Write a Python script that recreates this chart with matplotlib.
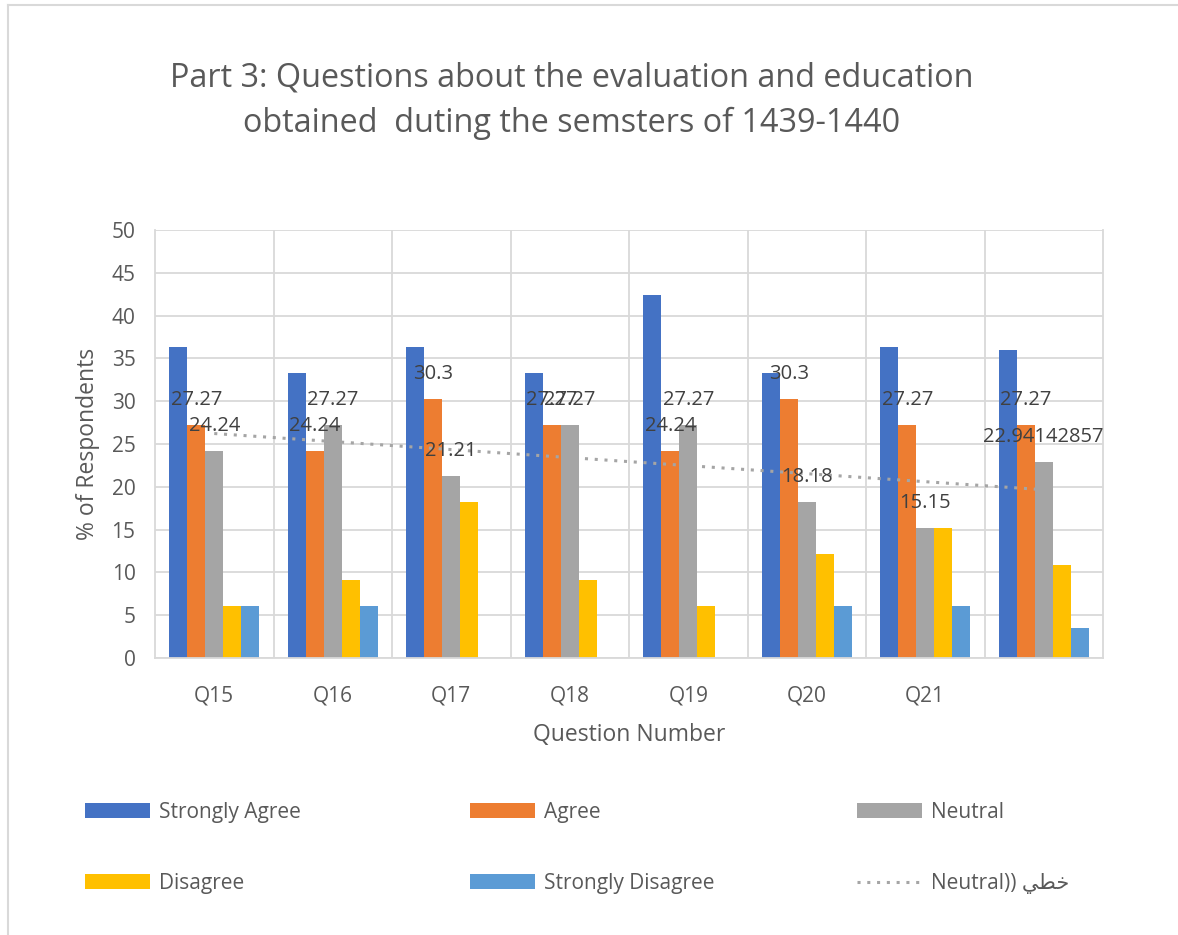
import numpy as np
import matplotlib
matplotlib.use("Agg")
import matplotlib.pyplot as plt
from matplotlib.lines import Line2D

plt.rcParams['font.family'] = ['Open Sans', 'DejaVu Sans']

# data
questions = ["Q15", "Q16", "Q17", "Q18", "Q19", "Q20", "Q21", ""]
series_names = ["Strongly Agree", "Agree", "Neutral", "Disagree", "Strongly Disagree"]
strongly_agree = [36.36, 33.33, 36.36, 33.33, 42.42, 33.33, 36.36, 35.93]
agree = [27.27, 24.24, 30.3, 27.27, 24.24, 30.3, 27.27, 27.27]
neutral = [24.24, 27.27, 21.21, 27.27, 27.27, 18.18, 15.15, 22.94142857]
disagree = [6.06, 9.09, 18.18, 9.09, 6.06, 12.12, 15.15, 10.82]
strongly_disagree = [6.06, 6.06, 0, 0, 0, 6.06, 6.06, 3.46]
# Arabic word in visual (shaped) order, as Excel shows it
trend_label = "Neutral)) \uFEF2\uFEC4\uFEA7"

colors = ["#4472C4", "#ED7D31", "#A5A5A5", "#FFC000", "#5B9BD5"]
text_col = "#595959"
label_col = "#404040"

fig = plt.figure(figsize=(11.78, 9.35), dpi=100)
ax = fig.add_axes([155 / 1178, 1 - 658 / 935, (1103 - 155) / 1178, (658 - 230) / 935])

x = np.arange(len(questions))
w = 0.152
all_series = [strongly_agree, agree, neutral, disagree, strongly_disagree]
bars = []
for i, (vals, c, name) in enumerate(zip(all_series, colors, series_names)):
    b = ax.bar(x + (i - 2) * w, vals, w, color=c, label=name, zorder=2)
    bars.append(b)

# data labels only on Agree and Neutral (they overlap at Q18, as in the original)
for i in (1, 2):
    for xi, v in zip(x + (i - 2) * w, all_series[i]):
        ax.annotate(str(v), (xi, v), xytext=(0, 18), textcoords="offset points",
                    ha="center", va="center", fontsize=14.5, color=label_col, zorder=4)

# linear trend line for Neutral
k, m = np.polyfit(x, neutral, 1)
trend, = ax.plot(x, k * x + m, linestyle=(0, (1, 2.2)), color="#A5A5A5", lw=2.2,
                 zorder=3, label=trend_label)

ax.set_xlim(-0.5, len(questions) - 0.5)
ax.set_ylim(0, 50)
ax.set_yticks(np.arange(0, 51, 5))
ax.set_xticks(x)
ax.set_xticklabels(questions)
ax.set_xticks(np.arange(0.5, len(questions) - 0.5, 1), minor=True)
ax.grid(axis="y", color="#D9D9D9", lw=1.3, zorder=0)
ax.grid(axis="x", which="minor", color="#D9D9D9", lw=1.3, zorder=0)
ax.tick_params(axis="both", which="both", length=0, colors=text_col, labelsize=15)
ax.tick_params(axis="y", pad=14)
ax.tick_params(axis="x", pad=20)
ax.spines["top"].set_visible(False)
for s in ["left", "bottom", "right"]:
    ax.spines[s].set_color("#D9D9D9")
    ax.spines[s].set_linewidth(1.3)

ax.set_xlabel("Question Number", fontsize=16.5, color=text_col, labelpad=12)
ax.set_ylabel("% of Respondents", fontsize=16.5, color=text_col, labelpad=8)

fig.text(572 / 1178, 1 - 101 / 935,
         "Part 3: Questions about the evaluation and education\nobtained  duting the semsters of 1439-1440",
         ha="center", va="center", fontsize=23.3, color=text_col, linespacing=1.5)

# legend: three fixed-width columns, filled row-wise like Excel
handles = bars + [trend]
labels = series_names + [trend_label]
col_x = [85, 470, 857]
for c in range(3):
    idx = [c, c + 3]
    leg = fig.legend([handles[i] for i in idx], [labels[i] for i in idx],
                     loc="upper left", bbox_to_anchor=(col_x[c] / 1178, 1 - 802 / 935),
                     frameon=False, fontsize=15, handlelength=3.1, handleheight=0.7,
                     labelspacing=2.4, handletextpad=0.45, borderpad=0, borderaxespad=0)
    for t in leg.get_texts():
        t.set_color(text_col)

# chart border (left / top)
fig.add_artist(Line2D([8 / 1178, 8 / 1178], [0, 1 - 5 / 935], color="#D9D9D9", lw=1.5))
fig.add_artist(Line2D([8 / 1178, 1], [1 - 5 / 935, 1 - 5 / 935], color="#D9D9D9", lw=1.5))

fig.savefig("out.png", dpi=100)
